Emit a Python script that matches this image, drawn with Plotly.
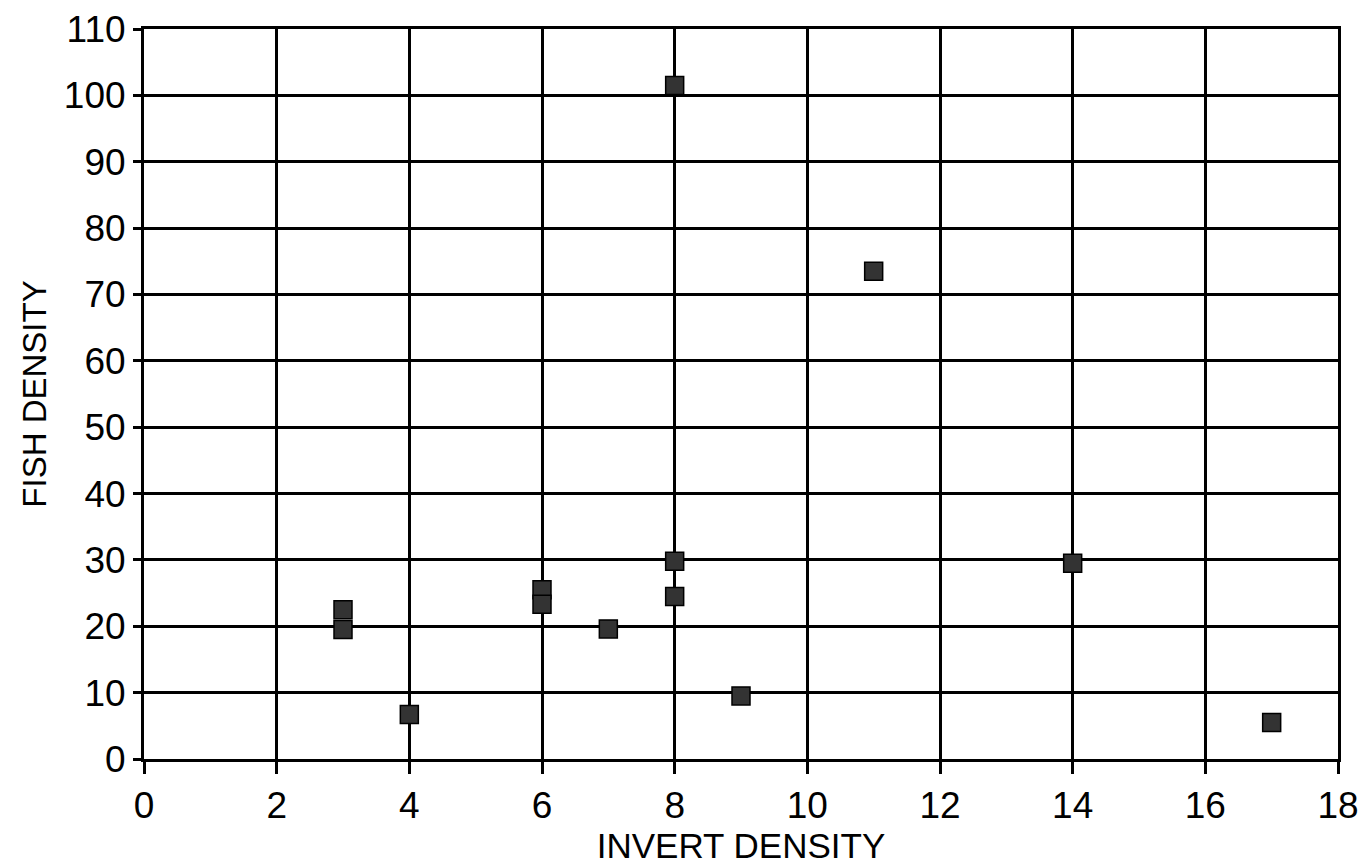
import plotly.graph_objects as go

invert_density = [8, 11, 3, 3, 4, 6, 6, 7, 8, 8, 9, 14, 17]
fish_density = [101.5, 73.5, 22.5, 19.5, 6.7, 25.5, 23.3, 19.6, 29.8, 24.5, 9.5, 29.5, 5.5]

x_ticks = [0, 2, 4, 6, 8, 10, 12, 14, 16, 18]
y_ticks = [0, 10, 20, 30, 40, 50, 60, 70, 80, 90, 100, 110]

fig = go.Figure()
fig.add_trace(go.Scatter(
    x=invert_density, y=fish_density, mode="markers",
    marker=dict(symbol="square", size=18, color="#333333",
                line=dict(color="#000000", width=1.5)),
    showlegend=False, hoverinfo="x+y",
))

font_family = "Liberation Sans, Arial, sans-serif"
fig.update_layout(
    width=1370, height=863,
    margin=dict(l=136, r=40, t=21, b=112, autoexpand=False),
    paper_bgcolor="white", plot_bgcolor="white",
    font=dict(family=font_family, color="black"),
    xaxis=dict(
        range=[0, 18], tickvals=x_ticks, ticktext=[str(v) for v in x_ticks],
        showgrid=True, gridcolor="black", gridwidth=2.5,
        showline=True, linecolor="black", linewidth=3, mirror=True,
        ticks="outside", ticklen=12, tickwidth=2.5, tickcolor="black",
        tickfont=dict(size=37), zeroline=False, ticklabeloverflow="allow",
        title=dict(text="INVERT DENSITY", font=dict(size=35), standoff=0),
    ),
    yaxis=dict(
        range=[0, 110], tickvals=y_ticks, ticktext=[str(v) for v in y_ticks],
        showgrid=True, gridcolor="black", gridwidth=2.5,
        showline=True, linecolor="black", linewidth=3, mirror=True,
        ticks="outside", ticklen=8, tickwidth=2.5, tickcolor="black",
        tickfont=dict(size=37), zeroline=False, ticklabeloverflow="allow",
        title=dict(text="FISH DENSITY", font=dict(size=33), standoff=8),
    ),
)

fig.write_html("out.html")
